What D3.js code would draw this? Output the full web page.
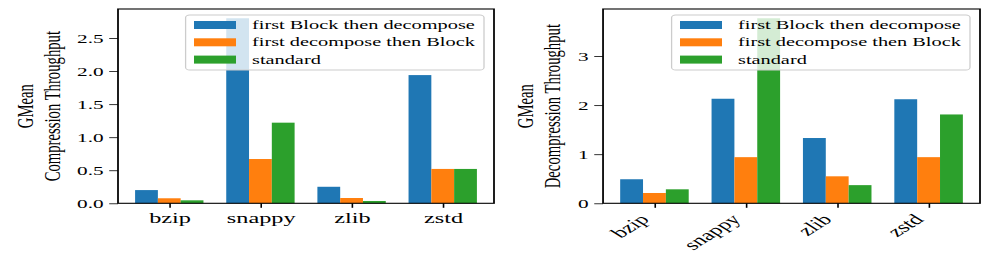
<!DOCTYPE html>
<meta charset="utf-8">
<style>
body { margin: 0; background: #fff; }
svg { display: block; }
text { font-family: "Liberation Serif", "Times New Roman", serif; fill: #000; }
</style>
<svg id="chart"></svg>
<script src="https://d3js.org/d3.v7.min.js"></script>
<script>
// data
var categories = ["bzip", "snappy", "zlib", "zstd"];
var seriesNames = ["first Block then decompose", "first decompose then Block", "standard"];
var seriesColors = ["#1f77b4", "#ff7f0e", "#2ca02c"];

var compBlockFirst  = [0.20, 2.80, 0.25, 1.94];
var compDecompFirst = [0.076, 0.67, 0.08, 0.52];
var compStandard    = [0.045, 1.22, 0.035, 0.52];

var decompBlockFirst  = [0.49, 2.13, 1.33, 2.12];
var decompDecompFirst = [0.21, 0.94, 0.55, 0.94];
var decompStandard    = [0.285, 3.77, 0.37, 1.81];

var compTicks = [0, 0.5, 1.0, 1.5, 2.0, 2.5];
var decompTicks = [0, 1, 2, 3];

// the original figure is stretched sideways, so draw in a narrow viewBox and let it stretch
var W = 996, H = 262, SX = 1.6;
var svg = d3.select("#chart")
    .attr("width", W).attr("height", H)
    .attr("viewBox", "0 0 " + (W / SX) + " " + H)
    .attr("preserveAspectRatio", "none");

var plotTop = 9, plotBottom = 203.3;

var panels = [
  { x0: 73.75, x1: 308.75, series: [compBlockFirst, compDecompFirst, compStandard],
    ticks: compTicks, fmt: d3.format(".1f"), label: ["GMean", "Compression Throughput"],
    labelX: [15.6, 32.5], rotate: false },
  { x0: 376.9, x1: 612.5, series: [decompBlockFirst, decompDecompFirst, decompStandard],
    ticks: decompTicks, fmt: d3.format("d"), label: ["GMean", "Decompression Throughput"],
    labelX: [328.1, 344.8], rotate: true }
];

panels.forEach(function(p) {
  var g = svg.append("g");
  var barW = 0.25;
  var n = categories.length;

  var x = d3.scaleLinear()
      .domain([-0.375 - 0.1875, n - 1 + 0.375 + 0.1875])
      .range([p.x0, p.x1]);

  var ymax = d3.max(p.series, function(s) { return d3.max(s); }) * 1.05;
  var y = d3.scaleLinear().domain([0, ymax]).range([plotBottom, plotTop]);

  // bars
  p.series.forEach(function(vals, j) {
    g.append("g").selectAll("rect")
      .data(vals)
      .enter().append("rect")
        .attr("x", function(d, i) { return x(i + (j - 1) * barW - barW / 2); })
        .attr("width", function() { return x(barW) - x(0); })
        .attr("y", function(d) { return y(d); })
        .attr("height", function(d) { return y(0) - y(d); })
        .attr("fill", seriesColors[j]);
  });

  // y axis
  var ya = g.append("g")
      .attr("transform", "translate(" + p.x0 + ",0)")
      .call(d3.axisLeft(y).tickValues(p.ticks).tickFormat(p.fmt).tickSize(5.5).tickPadding(3.5));
  ya.select(".domain").remove();
  ya.selectAll("line").attr("stroke", "#000").attr("stroke-width", 0.8);
  ya.selectAll("text")
      .style("font-family", "'Liberation Serif', 'Times New Roman', serif")
      .style("font-size", "13.3px");

  // x axis
  var xa = g.append("g")
      .attr("transform", "translate(0," + plotBottom + ")")
      .call(d3.axisBottom(x).tickValues(d3.range(n)).tickFormat(function(i) { return categories[i]; })
        .tickSize(4.5).tickPadding(4));
  xa.select(".domain").remove();
  xa.selectAll("line").attr("stroke", "#000").attr("stroke-width", 1);
  xa.selectAll("text")
      .style("font-family", "'Liberation Serif', 'Times New Roman', serif")
      .style("font-size", "15.2px");
  if (p.rotate) {
    xa.selectAll("text")
        .attr("text-anchor", "end")
        .attr("y", 0).attr("dy", 0)
        .attr("transform", "translate(-3,17) rotate(-45)");
  } else {
    xa.selectAll("text").attr("y", 8.5).attr("dy", "0.71em");
  }

  // frame
  g.append("rect")
      .attr("x", p.x0).attr("y", plotTop)
      .attr("width", p.x1 - p.x0).attr("height", plotBottom - plotTop)
      .attr("fill", "none").attr("stroke", "#000").attr("stroke-width", 1.1);

  // y label, two lines
  p.label.forEach(function(t, k) {
    g.append("text")
        .attr("transform", "translate(" + p.labelX[k] + "," + ((plotTop + plotBottom) / 2) + ") rotate(-90)")
        .attr("text-anchor", "middle")
        .attr("dy", "0.35em")
        .style("font-size", "14.7px")
        .text(t);
  });

  // legend
  var lw = 186.5, lh = 55;
  var lg = g.append("g").attr("transform", "translate(" + (p.x1 - 6.25 - lw) + "," + (plotTop + 6) + ")");
  lg.append("rect")
      .attr("width", lw).attr("height", lh)
      .attr("rx", 2.5)
      .attr("fill", "#fff").attr("fill-opacity", 0.8)
      .attr("stroke", "#ccc").attr("stroke-width", 0.8);
  seriesNames.forEach(function(name, j) {
    var cy = 10 + j * 17.3;
    lg.append("rect")
        .attr("x", 5.25).attr("y", cy - 4)
        .attr("width", 26.25).attr("height", 8)
        .attr("fill", seriesColors[j]);
    lg.append("text")
        .attr("x", 41.5).attr("y", cy)
        .attr("dy", "0.33em")
        .style("font-size", "12.7px")
        .text(name);
  });
});
</script>
